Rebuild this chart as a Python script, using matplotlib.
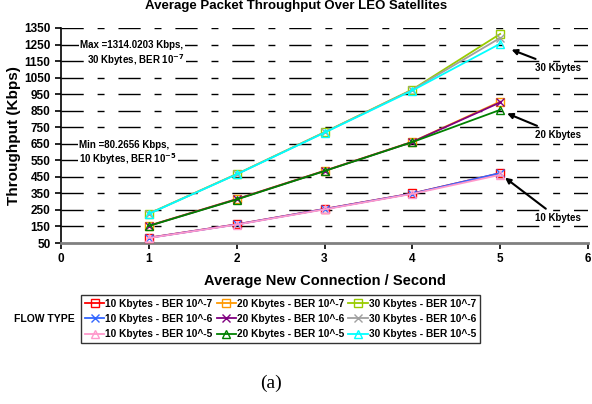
#!/usr/bin/python
# -*- coding: utf-8 -*-
import matplotlib
matplotlib.use('Agg')
import matplotlib.pyplot as plt
from matplotlib.lines import Line2D

plt.rcParams['font.family'] = ['Liberation Sans', 'DejaVu Sans']
plt.rcParams['font.weight'] = 'bold'
plt.rcParams['mathtext.default'] = 'bf'

conn_rate = [1, 2, 3, 4, 5]

tp_10k_7 = [82, 163, 256, 350, 472]
tp_10k_6 = [81, 162, 255, 349, 473]
tp_10k_5 = [80.2656, 161, 253, 347, 462]
tp_20k_7 = [155, 316, 487, 662, 905]
tp_20k_6 = [154, 315, 486, 661, 900]
tp_20k_5 = [153, 313, 485, 660, 855]
tp_30k_7 = [228, 467, 720, 978, 1314.0203]
tp_30k_6 = [227, 466, 719, 976, 1290]
tp_30k_5 = [226, 465, 717, 972, 1255]

labels = ['10 Kbytes - BER 10^-7', '10 Kbytes - BER 10^-6', '10 Kbytes - BER 10^-5',
          '20 Kbytes - BER 10^-7', '20 Kbytes - BER 10^-6', '20 Kbytes - BER 10^-5',
          '30 Kbytes - BER 10^-7', '30 Kbytes - BER 10^-6', '30 Kbytes - BER 10^-5']
series = [tp_10k_7, tp_10k_6, tp_10k_5, tp_20k_7, tp_20k_6, tp_20k_5,
          tp_30k_7, tp_30k_6, tp_30k_5]
colors = ['#FF0000', '#3366FF', '#FF99CC', '#FF9900', '#800080', '#008000',
          '#99CC00', '#A0A0A0', '#00FFFF']
markers = ['s', 'x', '^'] * 3

y_ticks = list(range(50, 1351, 100))
x_ticks = [0, 1, 2, 3, 4, 5, 6]

fig = plt.figure(figsize=(5.92, 4.04), dpi=100)
ax = fig.add_axes([61 / 592., 1 - 243 / 404., 527 / 592., 215 / 404.])

for yv in y_ticks[1:]:
    ax.axhline(yv, color='black', lw=1.0, ls=(0, (16, 10, 5, 10)), zorder=0)

handles = []
for d in range(len(series)):
    ax.plot(conn_rate, series[d], color=colors[d], lw=1.3, marker=markers[d],
            ms=5.5, mfc='none', mec=colors[d], mew=1.0, zorder=3)
    handles.append(Line2D([0], [0], color=colors[d], lw=1.3, marker=markers[d],
                          ms=5.5, mfc='none', mec=colors[d], mew=1.0))

ax.set_xlim(0, 6)
ax.set_ylim(50, 1350)
ax.set_xticks(x_ticks)
ax.set_yticks(y_ticks)
ax.tick_params(labelsize=8.5, length=4, width=1.2)
ax.spines['top'].set_visible(False)
ax.spines['right'].set_visible(False)
ax.spines['bottom'].set_color('#808080')
ax.spines['bottom'].set_linewidth(2)
ax.spines['left'].set_linewidth(1.2)
ax.set_xlabel('Average New Connection / Second', fontsize=10.5, fontweight='bold', labelpad=6)
ax.set_ylabel('Throughput (Kbps)', fontsize=11, fontweight='bold', labelpad=2)

fig.text(0.5, 1 - 6 / 404., 'Average Packet Throughput Over LEO Satellites',
         ha='center', va='center', fontsize=9.5, fontweight='bold')

bbox = dict(facecolor='white', edgecolor='none', pad=1)
ax.text(0.22, 1250, 'Max =1314.0203 Kbps,', fontsize=7, fontweight='bold', va='center', bbox=bbox)
ax.text(0.3, 1157, '30 Kbytes, BER 10$^{-7}$', fontsize=7, fontweight='bold', va='center', bbox=bbox)
ax.text(0.21, 645, 'Min =80.2656 Kbps,', fontsize=7, fontweight='bold', va='center', bbox=bbox)
ax.text(0.21, 555, '10 Kbytes, BER 10$^{-5}$', fontsize=7, fontweight='bold', va='center', bbox=bbox)

arrow = dict(arrowstyle='-|>', color='black', lw=1.5, mutation_scale=8)
ax.annotate('30 Kbytes', xy=(5.1, 1225), xytext=(5.4, 1140), fontsize=7, fontweight='bold',
            ha='left', va='top', arrowprops=arrow)
ax.annotate('20 Kbytes', xy=(5.05, 840), xytext=(5.4, 705), fontsize=7, fontweight='bold',
            ha='left', va='center', arrowprops=arrow)
ax.annotate('10 Kbytes', xy=(5.03, 455), xytext=(5.4, 200), fontsize=7, fontweight='bold',
            ha='left', va='center', arrowprops=arrow)

leg = fig.legend(handles, labels, ncol=3, loc='center', bbox_to_anchor=(280.5 / 592., 1 - 319 / 404.),
                 fontsize=7.3, frameon=True, fancybox=False, edgecolor='black',
                 handlelength=1.9, handletextpad=0.1, columnspacing=0.4, labelspacing=0.5,
                 borderpad=0.4, borderaxespad=0)
leg.get_frame().set_linewidth(1.0)
fig.text(44 / 592., 1 - 319 / 404., 'FLOW TYPE', ha='center', va='center', fontsize=7.5, fontweight='bold')
fig.text(271 / 592., 1 - 383 / 404., '(a)', ha='center', va='center', fontsize=14,
         fontweight='normal', family='Liberation Serif')

fig.savefig('out.png', dpi=100)
